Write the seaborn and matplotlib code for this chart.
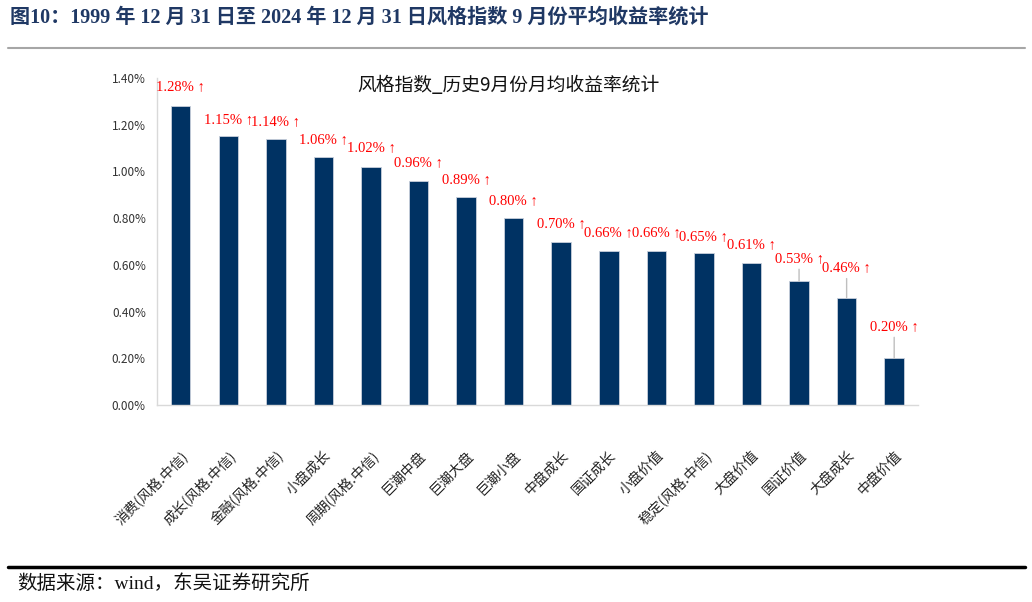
import pandas as pd
import matplotlib.pyplot as plt
import seaborn as sns

sns.set_theme(style="white")
plt.rcParams["font.family"] = ["Liberation Serif", "Noto Sans CJK SC", "DejaVu Sans"]

styles = [
    "消费(风格.中信)", "成长(风格.中信)", "金融(风格.中信)", "小盘成长",
    "周期(风格.中信)", "巨潮中盘", "巨潮大盘", "巨潮小盘", "中盘成长",
    "国证成长", "小盘价值", "稳定(风格.中信)", "大盘价值", "国证价值",
    "大盘成长", "中盘价值",
]
avg_return = [1.28, 1.15, 1.14, 1.06, 1.02, 0.96, 0.89, 0.80, 0.70,
              0.66, 0.66, 0.65, 0.61, 0.53, 0.46, 0.20]
# label lift above bar top in pixels (last three carry a leader line)
label_lift = [19, 17, 17, 18, 19, 18, 18, 18, 18, 18, 18, 17, 18, 23, 30, 32]
y_ticks = [0.0, 0.2, 0.4, 0.6, 0.8, 1.0, 1.2, 1.4]

df = pd.DataFrame({"style": styles, "ret": avg_return})

fig = plt.figure(figsize=(10.32, 6.02), dpi=100)
ax = fig.add_axes([0.1521, 0.3272, 0.7374, 0.5432])

sns.barplot(data=df, x="style", y="ret", color="#003263", width=0.41,
            saturation=1, edgecolor="#c8d0dc", linewidth=0.6, ax=ax)

ax.set_xlim(-0.5, 15.5)
ax.set_ylim(0, 1.4)
ax.set_yticks(y_ticks)
ax.set_yticklabels([f"{v:.2f}%" for v in y_ticks],
                   family=["Noto Sans CJK SC"], fontsize=8.5, color="#333333")
ax.set_xticks(range(len(styles)))
ax.set_xticklabels(styles, rotation=45, ha="right", rotation_mode="anchor",
                   family=["Noto Sans CJK SC"], fontsize=10, color="#222222")
ax.tick_params(axis="x", length=0, pad=31)
ax.tick_params(axis="y", length=0, pad=8)
ax.set_xlabel("")
ax.set_ylabel("")
for s in ["top", "right"]:
    ax.spines[s].set_visible(False)
for s in ["left", "bottom"]:
    ax.spines[s].set_color("#d9d9d9")
    ax.spines[s].set_linewidth(1.0)

for i, (v, lift) in enumerate(zip(avg_return, label_lift)):
    ax.annotate(f"{v:.2f}% ↑", xy=(i, v), xytext=(0, lift),
                textcoords="offset pixels", ha="center", va="center",
                color="#ff0000", fontsize=10.5,
                family=["Liberation Serif", "DejaVu Sans"])
    if lift > 20:
        ax.annotate("", xy=(i, v), xytext=(0, lift - 11),
                    textcoords="offset pixels",
                    arrowprops=dict(arrowstyle="-", color="#bfbfbf", lw=1.0,
                                    shrinkA=0, shrinkB=0))

fig.text(0.493, 0.858, "风格指数_历史9月份月均收益率统计", ha="center", va="center",
         fontsize=13.5, color="#111111", family=["Noto Sans CJK SC"])

fig.text(0.010, 0.971,
         "图10：1999 年 12 月 31 日至 2024 年 12 月 31 日风格指数 9 月份平均收益率统计",
         ha="left", va="center", fontsize=14.5, fontweight="bold", color="#1f3864")
fig.add_artist(plt.Line2D([0.008, 0.993], [0.921, 0.921], color="#a6a6a6", lw=1.5))
fig.add_artist(plt.Line2D([0.008, 0.993], [0.058, 0.058], color="#000000", lw=2.5))
fig.text(0.017, 0.030, "数据来源：wind，东吴证券研究所", ha="left", va="center",
         fontsize=14, color="#111111")

fig.savefig("out.png", dpi=100)
